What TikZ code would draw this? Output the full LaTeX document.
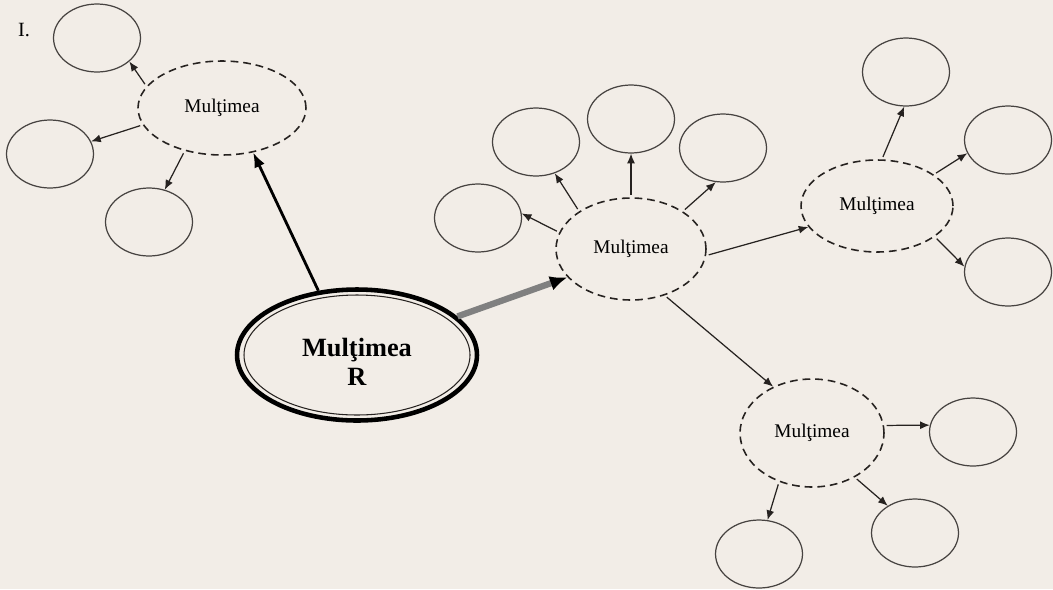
\documentclass[tikz,border=0pt]{standalone}
\usepackage{fontspec}
\setmainfont{Liberation Serif}
\usetikzlibrary{shapes.geometric,arrows.meta}
\definecolor{paper}{RGB}{242,237,231}
\definecolor{ink}{RGB}{38,34,32}
\begin{document}
\begin{tikzpicture}[x=0.02cm, y=-0.02cm,
        leaf/.style={ellipse, draw=ink!85, line width=0.7pt, minimum width=1.74cm, minimum height=1.36cm},
        setnode/.style={ellipse, draw=ink, dash pattern=on 4.4pt off 2.8pt, line width=0.9pt, inner sep=0pt, font=\fontsize{11}{13}\selectfont},
        link/.style={-{Latex[length=5.5pt,width=4.5pt]}, draw=ink, line width=0.7pt, shorten <=1.5pt}]
    \fill[paper] (0,0) rectangle (1053,589);

    \node (nr) at (24,30) [font=\fontsize{11.5}{13}\selectfont] {I.};

    \node (R) at (357,355) [ellipse, draw=black, line width=2.6pt, minimum width=4.8cm, minimum height=2.62cm, align=center, text height=35pt, font=\bfseries\fontsize{15}{16.5}\selectfont] {Mulţimea\\R};
    \draw[ink, line width=0.6pt] (R.center) ellipse [x radius=113, y radius=60];

    \node (setA) at (222,108) [setnode, minimum width=3.36cm, minimum height=1.88cm] {Mulţimea};
    \node (setB) at (631,249) [setnode, minimum width=3.0cm, minimum height=2.04cm] {Mulţimea};
    \node (setC) at (877,206) [setnode, minimum width=3.04cm, minimum height=1.84cm] {Mulţimea};
    \node (setD) at (812,433) [setnode, minimum width=2.88cm, minimum height=2.16cm] {Mulţimea};

    \node (leafA1) at (97,38) [leaf] {};
    \node (leafA2) at (50,154) [leaf] {};
    \node (leafA3) at (149,222) [leaf] {};
    \node (leafB1) at (478,218) [leaf] {};
    \node (leafB2) at (536,142) [leaf] {};
    \node (leafB3) at (631,119) [leaf] {};
    \node (leafB4) at (723,148) [leaf] {};
    \node (leafC1) at (906,72) [leaf] {};
    \node (leafC2) at (1008,140) [leaf] {};
    \node (leafC3) at (1008,272) [leaf] {};
    \node (leafD1) at (973,432) [leaf] {};
    \node (leafD2) at (915,533) [leaf] {};
    \node (leafD3) at (759,554) [leaf] {};

    \draw[-{Latex[length=8.5pt,width=6.5pt]}, black, line width=1.6pt] (R.121) -- (setA.-55);
    \draw[-{Latex[length=10pt,width=8.5pt,color=black]}, draw=black!50, line width=3.6pt] (R.21) -- (setB.204);

    \draw[link] (setA.164) -- (leafA1.-36);
    \draw[link] (setA.192) -- (leafA2.17);
    \draw[link] (setA.229) -- (leafA3.64);

    \draw[link] (setB.167) -- (leafB1.6);
    \draw[link] (setB.144) -- (leafB2.-59);
    \draw[link] (setB.90) -- (leafB3.270);
    \draw[link] (setB.36) -- (leafB4.-102);
    \draw[link] (setB.-5) -- (setC.197);
    \draw[link] (setB.-54) -- (setD.130);

    \draw[link] (setC.84) -- (leafC1.-93);
    \draw[link] (setC.29) -- (leafC2.198);
    \draw[link] (setC.-28) -- (leafC3.173);

    \draw[link] (setD.6) -- (leafD1.171);
    \draw[link] (setD.-46) -- (leafD2.135);
    \draw[link] (setD.236) -- (leafD3.76);
\end{tikzpicture}
\end{document}
